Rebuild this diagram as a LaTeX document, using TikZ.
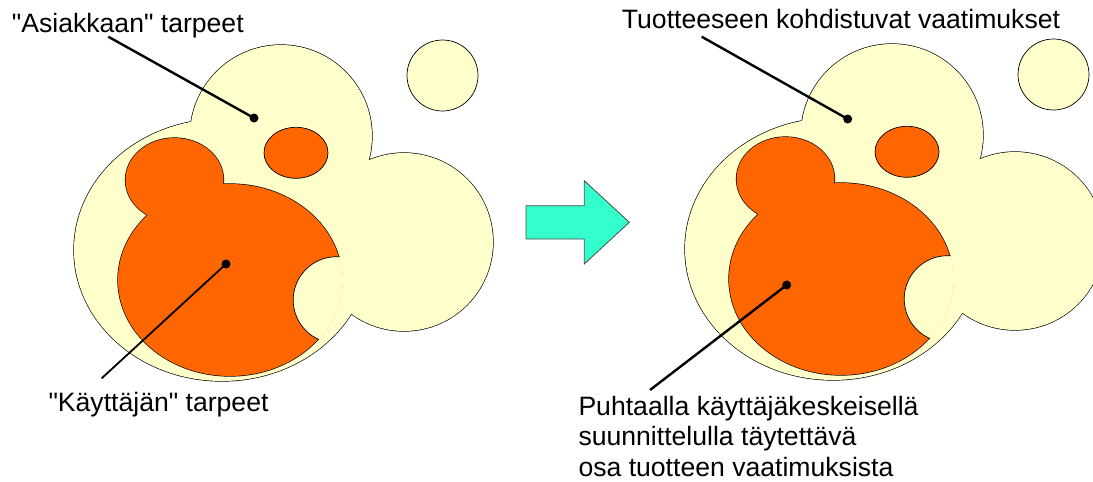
\documentclass[tikz,border=0pt]{standalone}
\usepackage{fontspec}
\newfontfamily\lblfont{Liberation Sans}
\definecolor{paleyellow}{HTML}{FFFFCC}
\definecolor{deeporange}{HTML}{FF6600}
\definecolor{aquaarrow}{HTML}{33FFCC}
\newcommand{\myblob}{%
 \draw[unionline] (222,250) ellipse [x radius=148, y radius=131];
 \draw[unionline] (281,136) circle [radius=91];
 \draw[unionline] (404,242) circle [radius=89];
 \fill[paleyellow] (222,250) ellipse [x radius=148, y radius=131];
 \fill[paleyellow] (281,136) circle [radius=91];
 \fill[paleyellow] (404,242) circle [radius=89];
 \draw[outl,fill=paleyellow] (442.5,75.5) circle [radius=35.5];
 \draw[outl,fill=deeporange] (296,152.8) ellipse [x radius=32, y radius=25.5];
 \draw[unionline] (230,280) ellipse [x radius=112, y radius=96];
 \draw[unionline] (174.5,180) ellipse [x radius=49, y radius=42];
 \fill[deeporange] (230,280) ellipse [x radius=112, y radius=96];
 \fill[deeporange] (174.5,180) ellipse [x radius=49, y radius=42];
 \begin{scope}
   \clip (230,280) ellipse [x radius=113, y radius=97];
   \draw[outl,fill=paleyellow] (336.5,300) circle [radius=43.3];
 \end{scope}
}
\begin{document}
\begin{tikzpicture}[x=1pt,y=-1pt,
  outl/.style={draw=black,line width=0.7pt},
  unionline/.style={draw=black,line width=1.3pt},
  lbl/.style={anchor=base west,inner sep=0pt,font=\lblfont\fontsize{26.6}{30.5}\selectfont},
  dot/.style={circle,fill=black,inner sep=0pt,minimum size=9pt},
  leader/.style={line width=2.4pt},
  leaderthin/.style={line width=1.8pt}]
\useasboundingbox (0,0) rectangle (1093,482);
\fill[white] (0,0) rectangle (1093,482);

% left blob
\myblob
% right blob
\begin{scope}[shift={(611,-1)}]
\myblob
\end{scope}

% arrow
\draw[draw=black!70,fill=aquaarrow,line width=0.8pt]
  (526,205.7) -- (584.3,205.7) -- (584.3,180.7) -- (629.3,222.3)
  -- (584.3,264) -- (584.3,239) -- (526,239) -- cycle;

% labels
\node[lbl] (t1) at (11.7,32.3) {"Asiakkaan" tarpeet};
\node[lbl] (t2) at (621.7,28.3) {Tuotteeseen kohdistuvat vaatimukset};
\node[lbl] (t3) at (48.3,411) {"Käyttäjän" tarpeet};
\node[lbl] (t4a) at (578.3,415) {Puhtaalla käyttäjäkeskeisellä};
\node[lbl] (t4b) at (578.3,445.7) {suunnittelulla täytettävä};
\node[lbl] (t4c) at (578.3,476) {osa tuotteen vaatimuksista};

% dots and leaders
\node[dot] (d1) at (254,118) {};
\node[dot] (d2) at (226,264) {};
\node[dot] (d3) at (847.7,119) {};
\node[dot] (d4) at (786.7,285) {};
\coordinate (c1) at (108.3,36.7);
\coordinate (c2) at (101.7,378.3);
\coordinate (c3) at (701.7,36.7);
\coordinate (c4) at (650,390);
\draw[leader] (c1) -- (d1.center);
\draw[leaderthin] (c2) -- (d2.center);
\draw[leader] (c3) -- (d3.center);
\draw[leader] (c4) -- (d4.center);
\end{tikzpicture}
\end{document}
